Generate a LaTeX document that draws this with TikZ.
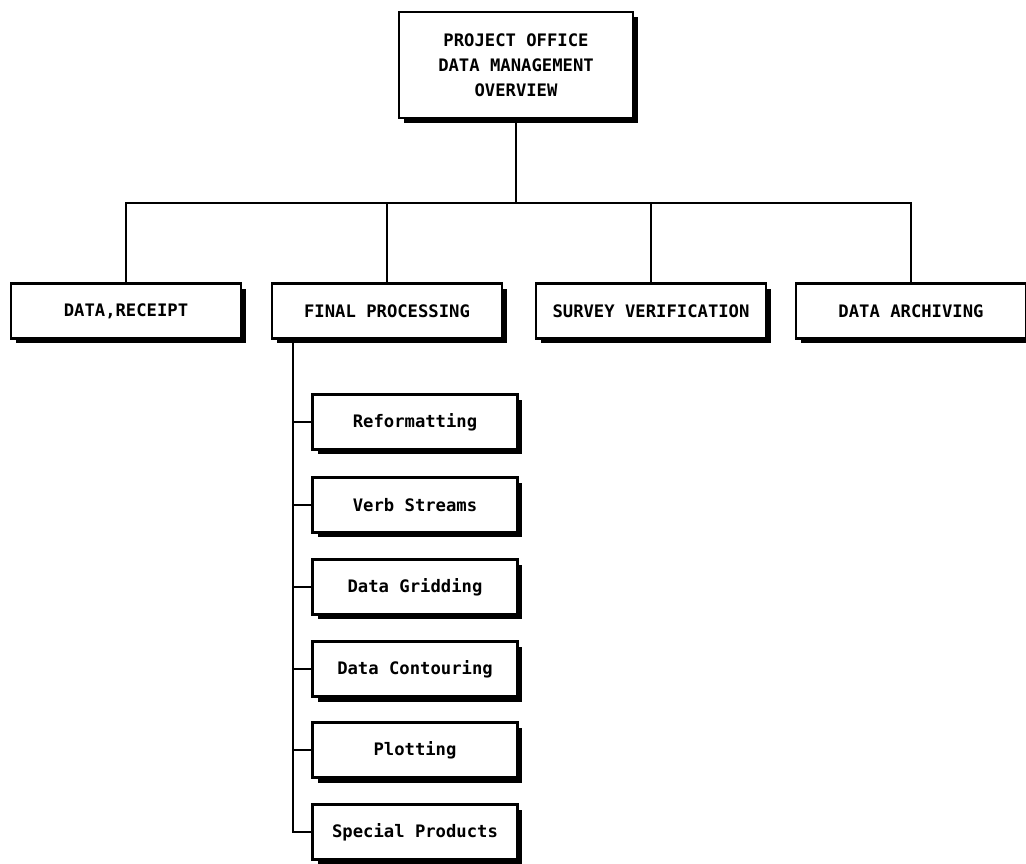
\documentclass[tikz,border=0pt]{standalone}
\usepackage{fontspec}
\setmonofont{DejaVu Sans Mono}
\usetikzlibrary{positioning,shadows}

\begin{document}
\begin{tikzpicture}[
  x=0.02cm,y=-0.02cm,
  font=\ttfamily\bfseries\fontsize{9.8}{14.2}\selectfont,
  box/.style={draw=black, fill=white, line width=1.4pt, align=center,
              inner sep=0pt,
              drop shadow={shadow xshift=0.1cm, shadow yshift=-0.1cm,
                           fill=black, opacity=1}},
  unit/.style={box, minimum width=4.6cm, minimum height=1.1cm},
  task/.style={box, minimum width=4.1cm, minimum height=1.1cm},
  link/.style={draw=black, line width=1.4pt}
]
\useasboundingbox (0,0) rectangle (1026,864);

% Head of the chart.
\node[box, minimum width=4.68cm, minimum height=2.12cm] (top) at (516,65)
  {PROJECT OFFICE\\DATA MANAGEMENT\\OVERVIEW};

% Second level.
\node[unit] (receipt)   at (126,311) {DATA,RECEIPT};
\node[unit] (final)     at (387,311) {FINAL PROCESSING};
\node[unit] (survey)    at (651,311) {SURVEY VERIFICATION};
\node[unit] (archiving) at (911,311) {DATA ARCHIVING};

\coordinate (bus) at (516,203);
\draw[link] (top.south) -- (bus);
\draw[link] (receipt.north) -- (receipt.north |- bus)
  -- (archiving.north |- bus) -- (archiving.north);
\draw[link] (final.north) -- (final.north |- bus);
\draw[link] (survey.north) -- (survey.north |- bus);

% Final processing steps.
\node[task] (reform)  at (415,422) {Reformatting};
\node[task] (verb)    at (415,505) {Verb Streams};
\node[task] (grid)    at (415,587) {Data Gridding};
\node[task] (contour) at (415,669) {Data Contouring};
\node[task] (plot)    at (415,750) {Plotting};
\node[task] (special) at (415,832) {Special Products};

\coordinate (spine) at (293,338.5);
\draw[link] (spine) -- (spine |- special.west) -- (special.west);
\foreach \n in {reform,verb,grid,contour,plot}
  \draw[link] (spine |- \n.west) -- (\n.west);

\end{tikzpicture}
\end{document}
